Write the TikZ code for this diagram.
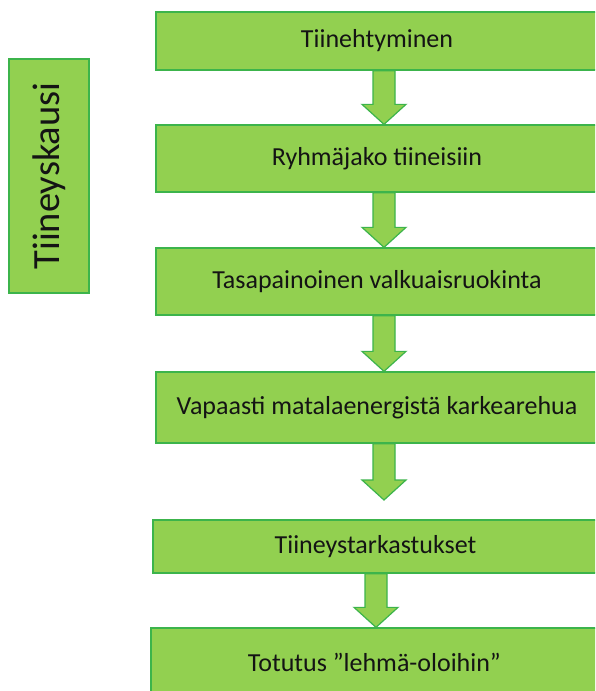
\documentclass[tikz,border=0pt]{standalone}
\usepackage{fontspec}
\setmainfont{Carlito}
\usetikzlibrary{calc}
\definecolor{boxfill}{HTML}{92D050}
\definecolor{boxline}{HTML}{3CB44B}
\definecolor{txt}{HTML}{141414}
\tikzset{
  box/.style={draw=boxline, line width=1.3pt, fill=boxfill, inner sep=0pt,
    text=txt, font=\fontsize{26}{30}\selectfont, anchor=center},
  blockarrow/.style={draw=boxline, line width=1.2pt, fill=boxfill, line join=miter},
}
\newcommand\blockarr[2]{%
  \path[blockarrow] ($#1+(-11,0)$) -- ($#1+(11,0)$) -- ($#2+(11,-20)$) -- ($#2+(22,-20)$)
    -- #2 -- ($#2+(-22,-20)$) -- ($#2+(-11,-20)$) -- cycle;}
\begin{document}
\begin{tikzpicture}[x=1pt,y=-1pt]
\useasboundingbox (0,0) rectangle (595,691);
\fill[white] (0,0) rectangle (595,691);
\clip (0,0) rectangle (595,691);
\node[box, minimum width=80pt, minimum height=234pt] (side) at (49,176) {};
\node[rotate=90, text=txt, font=\fontsize{38.5}{42}\selectfont] (sidetxt) at (49,176) {Tiineyskausi};
\node[box, minimum width=442pt, minimum height=58pt] (b1) at (377,41) {Tiinehtyminen};
\node[box, minimum width=442pt, minimum height=67pt] (b2) at (377,158.5) {Ryhmäjako tiineisiin};
\node[box, minimum width=442pt, minimum height=67pt] (b3) at (377,281.5) {Tasapainoinen valkuaisruokinta};
\node[box, minimum width=442pt, minimum height=71pt] (b4) at (377,407.5) {Vapaasti matalaenergistä karkearehua};
\node[box, minimum width=445pt, minimum height=53pt] (b5) at (375.5,546.5) {Tiineystarkastukset};
\node[box, minimum width=447pt, minimum height=68pt] (b6) at (374.5,662) {Totutus ”lehmä-oloihin”};
\coordinate (ax) at (384,0);
\coordinate (bx) at (376,0);
\coordinate (t4) at (384,500);
\blockarr{(b1.south -| ax)}{(b2.north -| ax)}
\blockarr{(b2.south -| ax)}{(b3.north -| ax)}
\blockarr{(b3.south -| ax)}{(b4.north -| ax)}
\blockarr{(b4.south -| ax)}{(t4)}
\blockarr{(b5.south -| bx)}{(b6.north -| bx)}
\end{tikzpicture}
\end{document}
